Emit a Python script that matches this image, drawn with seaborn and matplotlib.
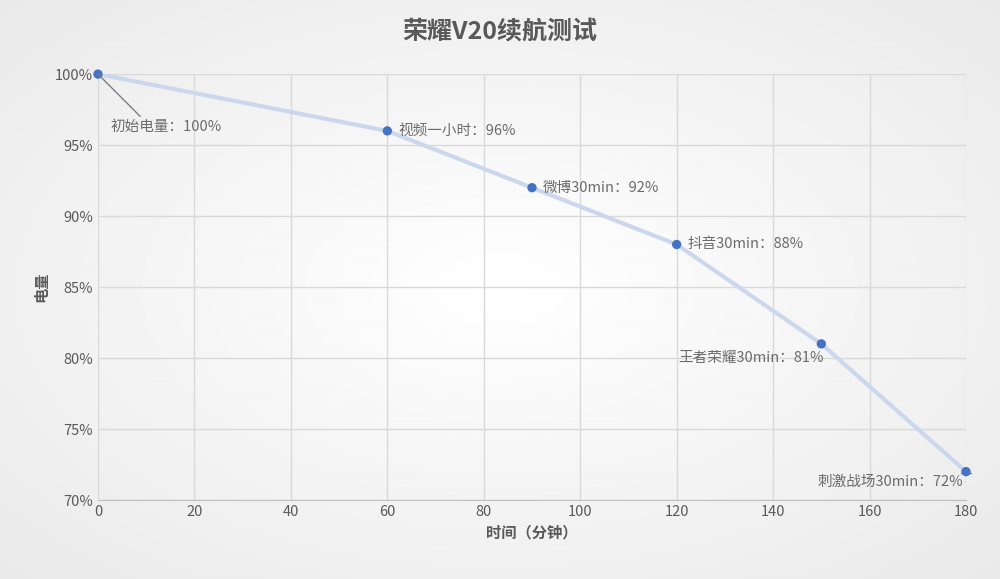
import numpy as np
import pandas as pd
import seaborn as sns
import matplotlib.pyplot as plt
from matplotlib.ticker import PercentFormatter

minutes = [0, 60, 90, 120, 150, 180]
battery = [100, 96, 92, 88, 81, 72]
labels = ["初始电量：100%", "视频一小时：96%", "微博30min：92%", "抖音30min：88%",
          "王者荣耀30min：81%", "刺激战场30min：72%"]

sns.set_style("whitegrid")
plt.rcParams['font.family'] = ['Noto Sans CJK SC', 'DejaVu Sans']

fig = plt.figure(figsize=(10, 5.79), dpi=100)
# soft radial grey background
bg = fig.add_axes([0, 0, 1, 1], zorder=-10)
yy, xx = np.mgrid[-1:1:300j, -1:1:500j]
r = np.sqrt(xx**2 + yy**2)
bg.imshow(1 - 0.06 * np.clip(r, 0, 1.4), cmap="gray", vmin=0, vmax=1, aspect="auto")
bg.axis("off")

ax = fig.add_axes([0.098, 0.1364, 0.868, 0.7356])
ax.patch.set_alpha(0)
df = pd.DataFrame({"t": minutes, "b": battery})
sns.lineplot(data=df, x="t", y="b", ax=ax, color="#cbd7ec", lw=3, zorder=2)
sns.scatterplot(data=df, x="t", y="b", ax=ax, color="#4472c4", s=45, zorder=3,
                edgecolor="none", clip_on=False)

offsets = [(None, None, "left"), (8, 0, "left"), (8, 0, "left"), (8, 0, "left"),
           (2, -10, "right"), (-2, -7, "right")]
for t, b, lab, (dx, dy, ha) in zip(minutes, battery, labels, offsets):
    if dx is None:
        ax.annotate(lab, (t, b), xytext=(2.5, 96.3), textcoords="data", ha=ha, va="center",
                    fontsize=10.5, color="#6b6b6b",
                    arrowprops=dict(arrowstyle="-", color="#7f7f7f", lw=1,
                                    relpos=(0.3, 1.0), shrinkA=0, shrinkB=0))
        continue
    ax.annotate(lab, (t, b), xytext=(dx, dy), textcoords="offset points", ha=ha, va="center",
                fontsize=10.5, color="#6b6b6b")
ax.plot([179, 181], [71.9, 71.9], color="#7f7f7f", lw=1, clip_on=False)

ax.set_xlim(0, 180)
ax.set_ylim(70, 100)
ax.set_xticks(range(0, 181, 20))
ax.set_yticks(range(70, 101, 5))
ax.yaxis.set_major_formatter(PercentFormatter(decimals=0))
ax.grid(color="#d9d9d9", lw=1)
for s in ax.spines.values():
    s.set_visible(False)
ax.spines["bottom"].set_visible(True)
ax.spines["bottom"].set_color("#bfbfbf")
ax.tick_params(colors="#595959", labelsize=10.5, length=0)
ax.set_xlabel("时间（分钟）", color="#595959", fontsize=11, fontweight="bold")
ax.set_ylabel("电量", color="#595959", fontsize=11, fontweight="bold")
fig.text(0.5, 0.945, "荣耀V20续航测试", ha="center", va="center", fontsize=18,
         color="#595959", fontweight="bold")
fig.savefig("out.png", dpi=100)
